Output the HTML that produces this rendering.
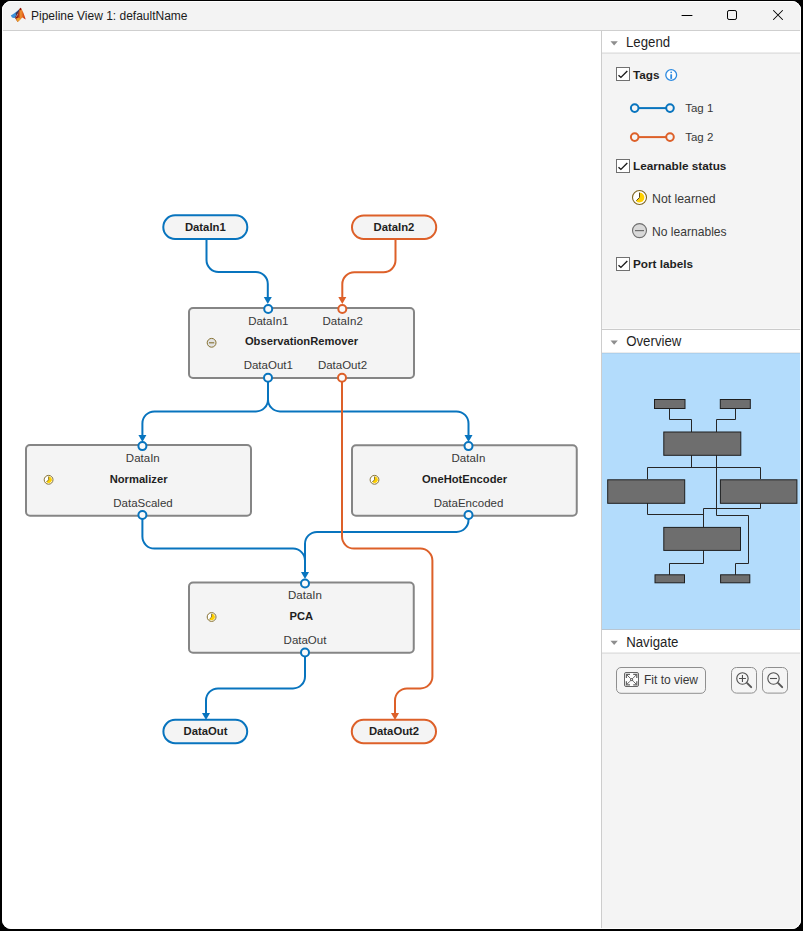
<!DOCTYPE html>
<html>
<head>
<meta charset="utf-8">
<style>
html,body{margin:0;padding:0;width:803px;height:931px;overflow:hidden;background:#000;}
body{position:relative;font-family:"Liberation Sans",sans-serif;}
.win{position:absolute;left:2px;top:1px;width:799px;height:928px;border-radius:9px;background:#fff;overflow:hidden;}
.abs{position:absolute;}
svg{position:absolute;left:0;top:0;}
</style>
</head>
<body>
<div class="win">
  <!-- title bar -->
  <div class="abs" style="left:0;top:0;width:799px;height:29px;background:#f3f3f3;"></div>
  <div class="abs" style="left:0;top:29px;width:799px;height:1px;background:#cfcfcf;"></div>
  <!-- right panel -->
  <div class="abs" style="left:599px;top:30px;width:1px;height:898px;background:#cdcdcd;"></div>
  <div class="abs" style="left:600px;top:30px;width:199px;height:21px;background:#fff;"></div>
  <div class="abs" style="left:600px;top:51px;width:199px;height:1px;background:#ececec;"></div>
  <div class="abs" style="left:600px;top:52px;width:199px;height:1px;background:#e2e2e2;"></div>
  <div class="abs" style="left:600px;top:53px;width:199px;height:275px;background:#f4f4f4;"></div>
  <div class="abs" style="left:600px;top:327px;width:199px;height:1px;background:#f8f8f8;"></div>
  <div class="abs" style="left:600px;top:328px;width:199px;height:1px;background:#cbcbcb;"></div>
  <div class="abs" style="left:600px;top:329px;width:199px;height:22px;background:#fff;"></div>
  <div class="abs" style="left:600px;top:351px;width:199px;height:1px;background:#ececec;"></div>
  <div class="abs" style="left:600px;top:352px;width:199px;height:1px;background:#abd0ee;"></div>
  <div class="abs" style="left:600px;top:353px;width:199px;height:275px;background:#b3dcfc;"></div>
  <div class="abs" style="left:600px;top:628px;width:199px;height:1px;background:#b9c6d2;"></div>
  <div class="abs" style="left:600px;top:629px;width:199px;height:22px;background:#fff;"></div>
  <div class="abs" style="left:600px;top:651px;width:199px;height:1px;background:#ececec;"></div>
  <div class="abs" style="left:600px;top:652px;width:199px;height:1px;background:#e2e2e2;"></div>
  <div class="abs" style="left:600px;top:653px;width:199px;height:275px;background:#f4f4f4;"></div>
</div>
<!-- window 1px light border -->
<div class="abs" style="left:2px;top:1px;width:797px;height:926px;border:1px solid rgba(255,255,255,0.9);border-radius:9px;"></div>

<svg width="803" height="931" viewBox="0 0 803 931" font-family="Liberation Sans, sans-serif">
  <!-- DIAGRAM -->
  <g fill="none" stroke-width="2" stroke-linecap="butt">
    <!-- blue connections -->
    <path stroke="#0874be" d="M206.5 239 V260 A12 12 0 0 0 218.5 272 H255.8 A12 12 0 0 1 267.8 284 V298"/>
    <path stroke="#0874be" d="M268 382 V399.4 A12 12 0 0 1 256 411.4 H154.4 A12 12 0 0 0 142.4 423.4 V436"/>
    <path stroke="#0874be" d="M268 382 V399.4 A12 12 0 0 0 280 411.4 H456.5 A12 12 0 0 1 468.5 423.4 V436"/>
    <path stroke="#0874be" d="M142.4 519 V536.6 A12 12 0 0 0 154.4 548.6 H293 A12 12 0 0 1 305 560.6 V573"/>
    <path stroke="#0874be" d="M468.5 519 V519.9 A12 12 0 0 1 456.5 531.9 H317 A12 12 0 0 0 305 543.9 V573"/>
    <path stroke="#0874be" d="M305 656 V676.4 A12 12 0 0 1 293 688.4 H218 A12 12 0 0 0 206 700.4 V714"/>
    <!-- orange -->
    <path stroke="#dd6029" d="M395.5 239 V260.3 A12 12 0 0 1 383.5 272.3 H354.3 A12 12 0 0 0 342.3 284.3 V298"/>
    <path stroke="#dd6029" d="M342 382 V536.6 A12 12 0 0 0 354 548.6 H420.4 A12 12 0 0 1 432.4 560.6 V676.4 A12 12 0 0 1 420.4 688.4 H407 A12 12 0 0 0 395 700.4 V714"/>
  </g>
  <!-- arrows -->
  <g fill="#0874be">
    <path d="M263.8 297 H271.8 L267.8 304 Z"/>
    <path d="M138.4 435 H146.4 L142.4 442 Z"/>
    <path d="M464.5 435 H472.5 L468.5 442 Z"/>
    <path d="M301 572 H309 L305 579 Z"/>
    <path d="M202 713 H210 L206 720 Z"/>
  </g>
  <g fill="#dd6029">
    <path d="M338.3 297 H346.3 L342.3 304 Z"/>
    <path d="M391 713 H399 L395 720 Z"/>
  </g>
  <!-- nodes -->
  <g fill="#f4f4f4" stroke="#858585" stroke-width="2">
    <rect x="189" y="308" width="225" height="70" rx="4"/>
    <rect x="26" y="445" width="225" height="70.75" rx="4"/>
    <rect x="352" y="445.25" width="224.75" height="70.5" rx="4"/>
    <rect x="189" y="582.5" width="224.75" height="70.2" rx="4"/>
  </g>
  <!-- pills -->
  <g fill="#f4f4f4" stroke-width="2">
    <rect stroke="#0874be" x="163.3" y="215.3" width="84" height="23.6" rx="11.75"/>
    <rect stroke="#dd6029" x="352" y="215.4" width="84.2" height="23.5" rx="11.75"/>
    <rect stroke="#0874be" x="163.4" y="719.8" width="83.8" height="23.4" rx="11.75"/>
    <rect stroke="#dd6029" x="351.8" y="719.8" width="84.2" height="23.4" rx="11.75"/>
  </g>
  <!-- ports -->
  <g fill="#fafafa" stroke-width="2">
    <circle stroke="#0874be" cx="268.2" cy="309" r="4"/>
    <circle stroke="#dd6029" cx="342.3" cy="309" r="4"/>
    <circle stroke="#0874be" cx="268" cy="377.8" r="4"/>
    <circle stroke="#dd6029" cx="342" cy="377.8" r="4"/>
    <circle stroke="#0874be" cx="142.4" cy="446.1" r="4"/>
    <circle stroke="#0874be" cx="142.4" cy="515" r="4"/>
    <circle stroke="#0874be" cx="468.5" cy="446.1" r="4"/>
    <circle stroke="#0874be" cx="468.5" cy="515" r="4"/>
    <circle stroke="#0874be" cx="305" cy="583.5" r="4"/>
    <circle stroke="#0874be" cx="305" cy="652.5" r="4"/>
  </g>
  <!-- node icons -->
  <circle cx="211.6" cy="342.8" r="4.4" fill="#e2e2e2" stroke="#857030" stroke-width="1"/>
  <path d="M209 342.8 H214.2" stroke="#857030" stroke-width="1.1"/>
  <g transform="translate(0,0)">
  <circle cx="48.6" cy="479.8" r="4.4" fill="#fff" stroke="#857030" stroke-width="1"/>
  <path d="M48.6 479.8 V476.5 A3.3 3.3 0 1 1 46.3 482.1 Z" fill="#ffd000"/>
  <path d="M48.6 476.5 V479.8 L46.4 482" fill="none" stroke="#6a5a20" stroke-width="0.8"/>
  </g>
  <g transform="translate(325.9,0)">
  <circle cx="48.6" cy="479.8" r="4.4" fill="#fff" stroke="#857030" stroke-width="1"/>
  <path d="M48.6 479.8 V476.5 A3.3 3.3 0 1 1 46.3 482.1 Z" fill="#ffd000"/>
  <path d="M48.6 476.5 V479.8 L46.4 482" fill="none" stroke="#6a5a20" stroke-width="0.8"/>
  </g>
  <g transform="translate(163,137.2)">
  <circle cx="48.6" cy="479.8" r="4.4" fill="#fff" stroke="#857030" stroke-width="1"/>
  <path d="M48.6 479.8 V476.5 A3.3 3.3 0 1 1 46.3 482.1 Z" fill="#ffd000"/>
  <path d="M48.6 476.5 V479.8 L46.4 482" fill="none" stroke="#6a5a20" stroke-width="0.8"/>
  </g>
  <!-- text -->
  <g font-size="11.3" font-weight="bold" fill="#1f1f1f" text-anchor="middle">
    <text x="205.3" y="230.9">DataIn1</text>
    <text x="394" y="230.9">DataIn2</text>
    <text x="205.5" y="734.6">DataOut</text>
    <text x="394" y="734.6">DataOut2</text>
  </g>
  <g font-size="11.2" font-weight="bold" fill="#1f1f1f" text-anchor="middle">
    <text x="301.5" y="345.1">ObservationRemover</text>
    <text x="138.6" y="482.6">Normalizer</text>
    <text x="464.5" y="482.6">OneHotEncoder</text>
    <text x="301.4" y="619.8">PCA</text>
  </g>
  <g font-size="11.5" fill="#383838" text-anchor="middle">
    <text x="268.3" y="324.9">DataIn1</text>
    <text x="342.7" y="324.9">DataIn2</text>
    <text x="268.3" y="369.1">DataOut1</text>
    <text x="342.5" y="369.1">DataOut2</text>
    <text x="142.8" y="461.8">DataIn</text>
    <text x="143" y="506.6">DataScaled</text>
    <text x="468.5" y="461.8">DataIn</text>
    <text x="468.5" y="506.6">DataEncoded</text>
    <text x="305" y="599">DataIn</text>
    <text x="305" y="643.5">DataOut</text>
  </g>
  <!-- TITLE -->
  <defs>
    <linearGradient id="mlr" x1="15" y1="14" x2="25.5" y2="14" gradientUnits="userSpaceOnUse">
      <stop offset="0" stop-color="#6e0a0a"/>
      <stop offset="0.3" stop-color="#a8250f"/>
      <stop offset="0.55" stop-color="#ef9530"/>
      <stop offset="0.75" stop-color="#e2621c"/>
      <stop offset="1" stop-color="#c42410"/>
    </linearGradient>
  </defs>
  <g>
    <path fill="#3a90d8" d="M10.8 15.4 L13.2 14 L15 12.8 L17.2 11 L19.4 9 L19.8 10.8 L17 14.2 L15.4 17.8 L13.6 17.9 L12 17.4 Z"/>
    <path fill="url(#mlr)" d="M19.4 9 L20.8 7.8 L22.2 10.2 L23.6 13.2 L24.6 16.2 L25.4 18.6 L25.6 19.4 L22.4 17.4 L19.8 20 L17.6 21.9 L15.2 18.2 L17.4 15.2 Z"/>
    <path fill="#4a1420" d="M15.6 13 L17.6 11.2 L19.4 9.2 L18.6 12.2 L16.8 15.4 L15.2 18.2 L14.6 17.4 L16.2 15.4 Z" opacity="0.75"/>
    <path fill="#f3aa2c" d="M15.9 18.8 L17.6 21.9 L20.6 19.2 L18.8 17.4 Z" opacity="0.9"/>
    <path fill="#8a0c0c" d="M19.4 9 L20.8 7.8 L21.6 9.2 L20 10.4 Z"/>
  </g>
  <text x="31" y="19.5" font-size="12" fill="#1b1b1b">Pipeline View 1: defaultName</text>
  <g stroke="#000" stroke-width="1" fill="none">
    <path d="M682 15.5 H692" stroke-linecap="round"/>
    <rect x="727.5" y="10.5" width="9" height="9" rx="1.6"/>
    <path d="M773.5 10.5 L782.5 19.5 M782.5 10.5 L773.5 19.5" stroke-width="1.05" stroke-linecap="round"/>
  </g>
  <!-- PANEL -->
  <!-- headers -->
  <g fill="#8e8e8e">
    <path d="M610.5 41.2 H617.8 L614.15 45.4 Z"/>
    <path d="M610.5 340.5 H617.8 L614.15 344.7 Z"/>
    <path d="M610.5 640.8 H617.8 L614.15 645 Z"/>
  </g>
  <g font-size="13.25" fill="#1f1f1f">
    <text transform="translate(626,46.9) scale(1,1.09)">Legend</text>
    <text transform="translate(626.2,346.4) scale(1,1.09)">Overview</text>
    <text transform="translate(626.2,646.8) scale(1,1.09)">Navigate</text>
  </g>
  <!-- checkboxes -->
  <g fill="#fff" stroke="#707070" stroke-width="1">
    <rect x="616.5" y="67.5" width="13" height="13"/>
    <rect x="616.5" y="159.5" width="13" height="13"/>
    <rect x="616.5" y="257.5" width="13" height="13"/>
  </g>
  <g fill="none" stroke="#1a1a1a" stroke-width="1.4" stroke-linejoin="miter">
    <path d="M618.5 75.2 L620.9 77.4 L627.3 71"/>
    <path d="M618.5 167.2 L620.9 169.4 L627.3 163"/>
    <path d="M618.5 265.2 L620.9 267.4 L627.3 261"/>
  </g>
  <g font-size="11.75" font-weight="bold" fill="#1f1f1f">
    <text x="633" y="78.5">Tags</text>
    <text x="633" y="169.9">Learnable status</text>
    <text x="633" y="268.4">Port labels</text>
  </g>
  <!-- info icon -->
  <circle cx="671.2" cy="75" r="5.4" fill="#fff" stroke="#2d8ae0" stroke-width="1.3"/>
  <circle cx="671.2" cy="72.3" r="0.9" fill="#2d8ae0"/>
  <rect x="670.3" y="74.3" width="1.8" height="4.6" fill="#2d8ae0"/>
  <!-- tags -->
  <g stroke-width="2" fill="#f5f5f5">
    <path stroke="#0874be" d="M639 108.1 H666"/>
    <circle stroke="#0874be" cx="634.7" cy="108.1" r="3.8"/>
    <circle stroke="#0874be" cx="670" cy="108.1" r="3.8"/>
    <path stroke="#dd6029" d="M639 137.1 H666"/>
    <circle stroke="#dd6029" cx="634.7" cy="137.1" r="3.8"/>
    <circle stroke="#dd6029" cx="670" cy="137.1" r="3.8"/>
  </g>
  <g font-size="11.5" fill="#383838">
    <text x="685.2" y="112.4">Tag 1</text>
    <text x="685.2" y="141.4">Tag 2</text>
  </g>
  <g fill="#383838">
    <text x="652" y="202.6" font-size="12.3">Not learned</text>
    <text x="652" y="235.7" font-size="12.1">No learnables</text>
  </g>
  <!-- not learned icon -->
  <circle cx="639.5" cy="197.5" r="7" fill="#fff" stroke="#7d6420" stroke-width="1.1"/>
  <path d="M639.5 197.5 V192.6 A4.9 4.9 0 1 1 636 200.9 Z" fill="#ffd000"/>
  <path d="M639.5 192.6 V197.5 L636.3 200.7" fill="none" stroke="#5a4a1a" stroke-width="1"/>
  <!-- no learnables icon -->
  <circle cx="639.5" cy="230.6" r="7" fill="#d9d9d9" stroke="#6e6e6e" stroke-width="1.1"/>
  <path d="M635 230.6 H644" stroke="#6e6e6e" stroke-width="1.2"/>
  <!-- overview minimap -->
  <g fill="none" stroke="#262626" stroke-width="1">
    <path d="M669.5 408.5 V419.5 H691.5 V432"/>
    <path d="M735.5 408.5 V419.5 H716.5 V432"/>
    <path d="M691.5 455 V467.5 M647.5 479 V467.5 H760.5 V479"/>
    <path d="M716.5 455 V515.5 H748.5 V563.5 H735.5 V575"/>
    <path d="M647.5 503 V514.5 H703.5 V527"/>
    <path d="M760.5 503 V508.5 H703.5 V527"/>
    <path d="M703.5 550 V563.5 H669.5 V575"/>
  </g>
  <g fill="#6e6e6e" stroke="#1e1e1e" stroke-width="1">
    <rect x="654.5" y="399.5" width="30.5" height="9"/>
    <rect x="720.3" y="399.5" width="30" height="9"/>
    <rect x="663.8" y="432" width="77" height="23.3"/>
    <rect x="607.7" y="479.8" width="77" height="23.5"/>
    <rect x="720.4" y="479.8" width="76.5" height="23.5"/>
    <rect x="663.8" y="527.4" width="76.7" height="23"/>
    <rect x="655" y="574.8" width="29.5" height="8"/>
    <rect x="720.6" y="574.8" width="29.2" height="8"/>
  </g>
  <!-- navigate buttons -->
  <g fill="#f5f5f5" stroke="#8f8f8f" stroke-width="1">
    <rect x="616.5" y="667.5" width="89" height="25.8" rx="4.5"/>
    <rect x="731.5" y="667.5" width="25" height="25.6" rx="5"/>
    <rect x="762.5" y="667.5" width="25" height="25.6" rx="5"/>
  </g>
  <text x="644" y="683.7" font-size="12" fill="#383838">Fit to view</text>
  <!-- fit icon -->
  <rect x="624.5" y="672.5" width="14" height="14" rx="1.5" fill="#fdfdfd" stroke="#666" stroke-width="1"/>
  <g fill="none" stroke="#666" stroke-width="1.3">
    <path d="M626.4 678 V674.4 H630"/>
    <path d="M636.8 678 V674.4 H633.2"/>
    <path d="M626.4 681.2 V684.8 H630"/>
    <path d="M636.8 681.2 V684.8 H633.2"/>
  </g>
  <g fill="none" stroke="#666" stroke-width="1">
    <path d="M627 675 L630 678 M636.2 675 L633.2 678 M627 684.2 L630 681.2 M636.2 684.2 L633.2 681.2"/>
  </g>
  <rect x="630.6" y="678.6" width="2" height="2" fill="none" stroke="#666" stroke-width="1"/>
  <!-- zoom in/out -->
  <g fill="none" stroke="#4f4f4f" stroke-width="1.1">
    <circle cx="742.45" cy="678.5" r="5.7"/>
    <path d="M739 678.5 H745.9 M742.45 675.05 V681.95"/>
    <circle cx="773.5" cy="678.5" r="5.7"/>
    <path d="M770 678.5 H777"/>
  </g>
  <g fill="none" stroke="#555" stroke-width="1.9" stroke-linecap="round">
    <path d="M747.2 683.2 L751.2 687.2"/>
    <path d="M778.2 683.2 L782.2 687.2"/>
  </g>
</svg>
</body>
</html>
